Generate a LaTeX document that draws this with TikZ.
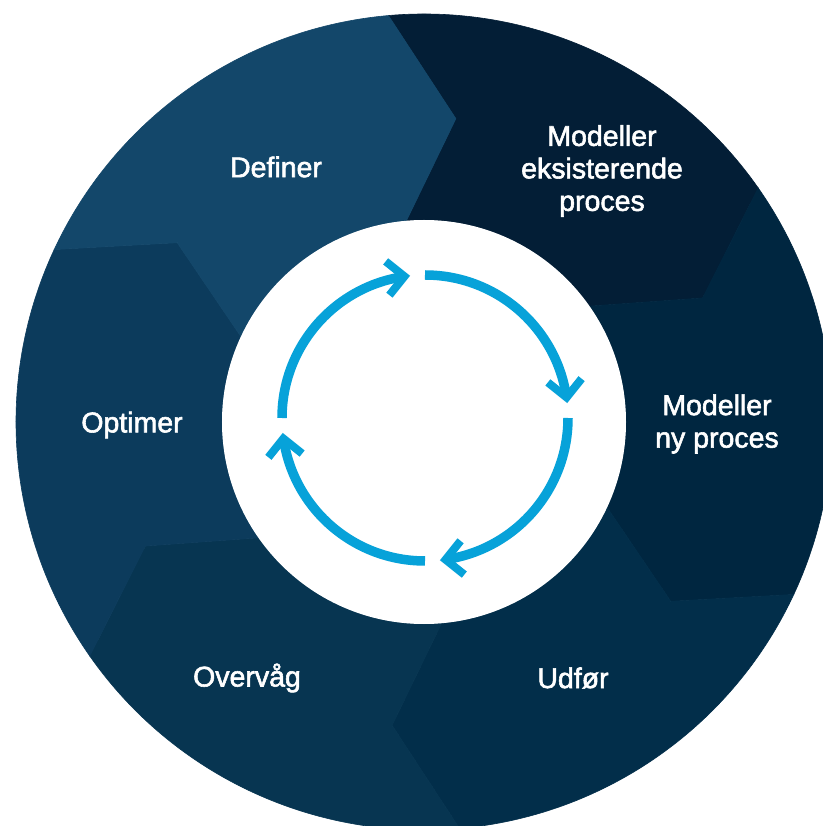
\documentclass[tikz,border=0pt]{standalone}
\usepackage{fontspec}
\setmainfont{Liberation Sans}[FakeBold=2]
\usetikzlibrary{arrows.meta,bending}
\definecolor{segA}{HTML}{031E36}
\definecolor{segB}{HTML}{002640}
\definecolor{segC}{HTML}{022E4A}
\definecolor{segD}{HTML}{073551}
\definecolor{segE}{HTML}{0C3B5C}
\definecolor{segF}{HTML}{13476A}
\definecolor{arrblue}{HTML}{07A2D9}
\tikzset{
  lbl/.style={text=white, align=center, font=\fontsize{28.5pt}{32.5pt}\selectfont, inner sep=0pt},
  cyc/.style={draw=arrblue, line width=9.5pt, -{Straight Barb[length=17pt,width=34pt,line width=8pt]}},
}
\newcommand{\segpath}[2]{%
  \fill[#2, draw=#2, line width=0.6pt] (#1:408pt) arc[start angle=#1, end angle=#1-60, radius=408pt]
    -- (#1-71:305pt) -- (#1-60:202pt) arc[start angle=#1-60, end angle=#1, radius=202pt]
    -- (#1-11:305pt) -- cycle;}
\begin{document}
\begin{tikzpicture}
\useasboundingbox (-424pt,-404pt) rectangle (398pt,422pt);
\fill[white] (-424pt,-404pt) rectangle (398pt,422pt);
\segpath{95}{segA}
\segpath{35}{segB}
\segpath{-25}{segC}
\segpath{-85}{segD}
\segpath{-145}{segE}
\segpath{155}{segF}
\fill[white] (0,0) circle[radius=202pt];
\node[lbl] (definer) at (-148pt,255pt) {Definer};
\node[lbl] (modeksist) at (178pt,251pt) {Modeller\\eksisterende\\proces};
\node[lbl] (modny) at (293pt,-2pt) {Modeller\\ny proces};
\node[lbl] (udfor) at (149pt,-256pt) {Udfør};
\node[lbl] (overvag) at (-177pt,-256pt) {Overvåg};
\node[lbl] (optimer) at (-292pt,-3pt) {Optimer};
\coordinate (c) at (1pt,4pt);
\draw[cyc] ([shift={(90:143pt)}]c) arc[start angle=90, end angle=6, radius=143pt];
\draw[cyc] ([shift={(0:143pt)}]c) arc[start angle=0, end angle=-84, radius=143pt];
\draw[cyc] ([shift={(-90:143pt)}]c) arc[start angle=-90, end angle=-174, radius=143pt];
\draw[cyc] ([shift={(180:143pt)}]c) arc[start angle=180, end angle=96, radius=143pt];
\end{tikzpicture}
\end{document}
